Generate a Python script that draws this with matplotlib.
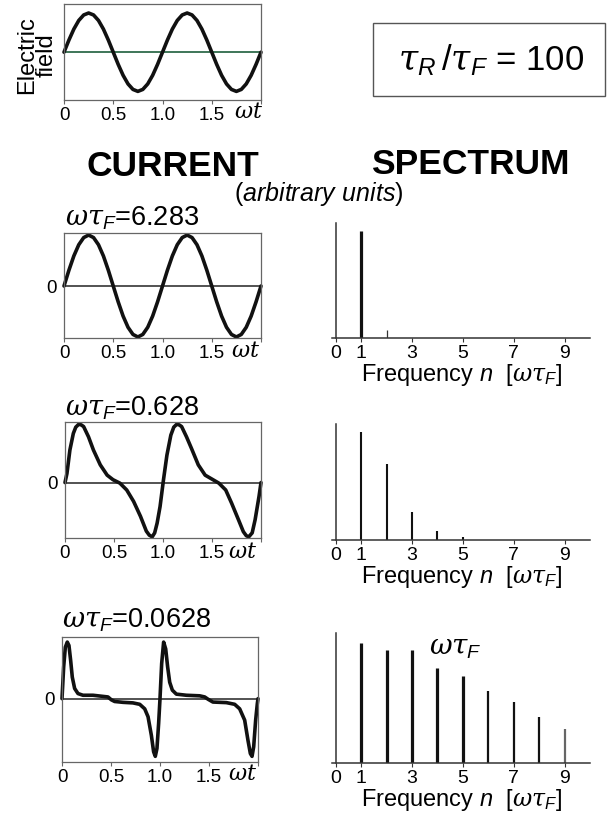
import matplotlib.pyplot as plt
from matplotlib.patches import Rectangle

plt.rcParams['font.family'] = 'Liberation Sans'
plt.rcParams['mathtext.fontset'] = 'custom'
plt.rcParams['mathtext.rm'] = 'Liberation Sans'
plt.rcParams['mathtext.it'] = 'DejaVu Serif:italic'
plt.rcParams['mathtext.sf'] = 'Liberation Sans:italic'

# driving field and the three current traces, time in units of the period
t_wave = [0.00, 0.05, 0.10, 0.15, 0.20, 0.25, 0.30, 0.35, 0.40, 0.45,
          0.50, 0.55, 0.60, 0.65, 0.70, 0.75, 0.80, 0.85, 0.90, 0.95,
          1.00, 1.05, 1.10, 1.15, 1.20, 1.25, 1.30, 1.35, 1.40, 1.45,
          1.50, 1.55, 1.60, 1.65, 1.70, 1.75, 1.80, 1.85, 1.90, 1.95, 2.00]
field = [0.00, 0.31, 0.59, 0.81, 0.95, 1.00, 0.95, 0.81, 0.59, 0.31,
         0.00, -0.31, -0.59, -0.81, -0.95, -1.00, -0.95, -0.81, -0.59, -0.31,
         0.00, 0.31, 0.59, 0.81, 0.95, 1.00, 0.95, 0.81, 0.59, 0.31,
         0.00, -0.31, -0.59, -0.81, -0.95, -1.00, -0.95, -0.81, -0.59, -0.31, 0.00]
current_fast = [0.00, 0.31, 0.59, 0.81, 0.95, 1.00, 0.95, 0.81, 0.59, 0.31,
                0.00, -0.31, -0.59, -0.81, -0.95, -1.00, -0.95, -0.81, -0.59, -0.31,
                0.00, 0.31, 0.59, 0.81, 0.95, 1.00, 0.95, 0.81, 0.59, 0.31,
                0.00, -0.31, -0.59, -0.81, -0.95, -1.00, -0.95, -0.81, -0.59, -0.31, 0.00]

t_mid = [0.00, 0.02, 0.05, 0.085, 0.11, 0.14, 0.165, 0.19, 0.24, 0.29,
         0.36, 0.43, 0.49, 0.56, 0.63, 0.70, 0.77, 0.83, 0.86, 0.89,
         0.915, 0.94, 0.97, 1.005, 1.04, 1.08, 1.11, 1.14, 1.165, 1.19,
         1.24, 1.29, 1.36, 1.43, 1.50, 1.57, 1.64, 1.70, 1.77, 1.82,
         1.85, 1.875, 1.91, 1.94, 1.98, 2.00]
current_mid = [0.00, 0.16, 0.57, 0.86, 0.97, 1.02, 1.01, 0.98, 0.80, 0.57,
               0.31, 0.13, 0.05, -0.01, -0.13, -0.33, -0.59, -0.85, -0.92, -0.95,
               -0.88, -0.71, -0.42, 0.05, 0.48, 0.83, 0.97, 1.02, 1.01, 0.98,
               0.80, 0.60, 0.31, 0.13, 0.06, -0.01, -0.13, -0.36, -0.65, -0.86,
               -0.93, -0.95, -0.88, -0.65, -0.24, 0.00]

t_slow = [0.000, 0.017, 0.034, 0.054, 0.071, 0.088, 0.105, 0.129, 0.163, 0.214,
          0.316, 0.418, 0.469, 0.503, 0.537, 0.622, 0.724, 0.793, 0.844, 0.878,
          0.912, 0.935, 0.952, 0.969, 0.986, 1.000, 1.017, 1.037, 1.058, 1.078,
          1.099, 1.126, 1.167, 1.269, 1.405, 1.456, 1.490, 1.540, 1.677, 1.762,
          1.813, 1.864, 1.898, 1.922, 1.939, 1.956, 1.976, 1.993, 2.000]
current_slow = [0.00, 0.56, 0.91, 1.00, 0.94, 0.68, 0.38, 0.18, 0.09, 0.06,
                0.06, 0.04, 0.03, -0.02, -0.05, -0.065, -0.075, -0.10, -0.18, -0.32,
                -0.65, -0.94, -1.02, -0.88, -0.44, 0.00, 0.62, 1.00, 0.88, 0.56,
                0.29, 0.15, 0.08, 0.06, 0.05, 0.03, -0.01, -0.06, -0.07, -0.10,
                -0.18, -0.38, -0.74, -0.97, -1.02, -0.85, -0.38, -0.09, 0.00]

# harmonic amplitudes (arbitrary units)
n_fast = [1, 2]
spec_fast = [0.93, 0.07]
n_mid = [1, 2, 3, 4, 5]
spec_mid = [0.93, 0.655, 0.24, 0.08, 0.025]
n_slow = [1, 2, 3, 4, 5, 6, 7, 8, 9]
spec_slow = [0.923, 0.872, 0.867, 0.734, 0.672, 0.557, 0.467, 0.352, 0.262]

titles = ['6.283', '0.628', '0.0628']
freq_ticks = [0, 1, 3, 5, 7, 9]

W, H = 614, 818
fig = plt.figure(figsize=(W / 100, H / 100), dpi=100)


def px_axes(x0, y0, x1, y1):
    return fig.add_axes([x0 / W, 1 - y1 / H, (x1 - x0) / W, (y1 - y0) / H])


def px_text(x, y, s, **kw):
    fig.text(x / W, 1 - y / H, s, **kw)


WT = r'$\omega t$'
OMT = r'$\omega\tau_{\mathsf{F}}$'


def wave_panel(ax, t, v, ylim, zero_color, zero_label=True):
    ax.axhline(0, color=zero_color, lw=1.3, zorder=1)
    ax.plot(t, v, color='#111111', lw=2.6, solid_capstyle='round',
            solid_joinstyle='round', zorder=2, clip_on=False)
    ax.set_xlim(0, 2)
    ax.set_ylim(ylim)
    for s in ax.spines.values():
        s.set_color('#666666')
        s.set_linewidth(0.9)
    ax.set_xticks([0, 0.5, 1, 1.5, 2])
    ax.set_xticklabels(['0', '0.5', '1.0', '1.5', ''])
    ax.tick_params(axis='x', direction='out', length=3, width=0.8,
                   color='#666666', labelsize=13.5, pad=2)
    if zero_label:
        ax.set_yticks([0])
        ax.set_yticklabels(['0'])
        ax.tick_params(axis='y', length=0, labelsize=13.5, pad=5)
    else:
        ax.set_yticks([])


def spec_panel(ax, n, amp, widths, colors):
    ax.vlines(n, 0, amp, colors=colors, linewidths=widths)
    ax.set_xlim(-0.15, 10.0)
    ax.set_ylim(0, 1)
    ax.spines['top'].set_visible(False)
    ax.spines['right'].set_visible(False)
    ax.spines['left'].set_position(('data', 0))
    for s in ('left', 'bottom'):
        ax.spines[s].set_color('#333333')
        ax.spines[s].set_linewidth(1.1)
    ax.set_yticks([])
    ax.set_xticks(freq_ticks)
    ax.tick_params(axis='x', direction='out', length=3, width=0.8,
                   color='#333333', labelsize=14, pad=2)
    ax.set_xlabel(r'Frequency $\mathsf{n}$  [$\omega\tau_{\mathsf{F}}$]',
                  fontsize=17, labelpad=0)


# electric field
ax = px_axes(64, 4, 261, 100)
wave_panel(ax, t_wave, field, (-1.22, 1.23), '#2f6b4b', zero_label=False)
px_text(37, 55, 'Electric\nfield', rotation=90, fontsize=17, ha='center',
        va='center', linespacing=0.82)
px_text(249, 112, WT, fontsize=16, ha='center', va='center')

# ratio box
fig.patches.append(Rectangle((373 / W, 1 - 96 / H), 232 / W, 73 / H,
                             transform=fig.transFigure, fill=False,
                             edgecolor='#555555', lw=1.0))
px_text(491, 60, r'$\tau_{\mathsf{R}}\,/\tau_{\mathsf{F}}$ = 100', fontsize=25,
        ha='center', va='center')

# headers
px_text(173, 166, 'CURRENT', fontsize=25.5, fontweight='bold', ha='center', va='center')
px_text(470, 165, 'SPECTRUM', fontsize=25.5, fontweight='bold', ha='center', va='center')
px_text(319, 194, r'($\mathsf{arbitrary\ units}$)', fontsize=18, ha='center', va='center')

# current panels
cur_boxes = [(64, 233, 261, 338), (65, 422, 261, 538), (62, 637, 258, 762)]
cur_data = [(t_wave, current_fast, (-1.02, 1.04)),
            (t_mid, current_mid, (-0.97, 1.06)),
            (t_slow, current_slow, (-1.12, 1.09))]
title_pos = [(65, 226), (65, 415), (62, 627)]
wt_pos = [(246, 351), (243, 552), (243, 774)]
for b, (t, v, yl), tp, wp, ttl in zip(cur_boxes, cur_data, title_pos, wt_pos, titles):
    ax = px_axes(*b)
    wave_panel(ax, t, v, yl, '#444444')
    px_text(tp[0], tp[1], OMT + '=' + ttl, fontsize=19.5, ha='left', va='baseline')
    px_text(wp[0], wp[1], WT, fontsize=16, ha='center', va='center')

# spectrum panels
ax = px_axes(332, 223, 590, 338)
spec_panel(ax, n_fast, spec_fast, [2.3, 0.9], ['#111111', '#333333'])
ax = px_axes(332, 424, 590, 540)
spec_panel(ax, n_mid, spec_mid, [1.5] * 5, ['#111111'] * 5)
ax = px_axes(332, 633, 590, 763)
spec_panel(ax, n_slow, spec_slow, [2.3] * 5 + [1.6] * 3 + [1.6],
           ['#111111'] * 8 + ['#666666'])
px_text(455, 648, OMT, fontsize=20, ha='center', va='center')

fig.savefig('out.png', dpi=100)
